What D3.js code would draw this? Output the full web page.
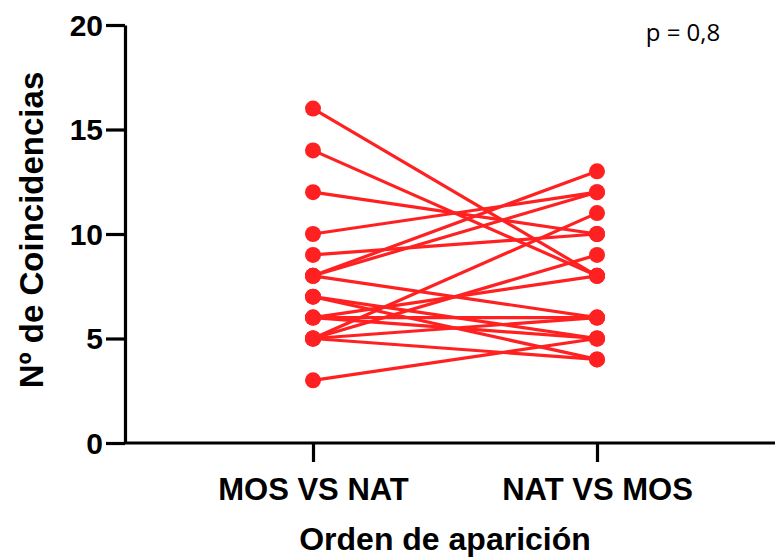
<!DOCTYPE html>
<html>
<head>
<meta charset="utf-8">
<script src="https://cdn.jsdelivr.net/npm/d3@7/dist/d3.min.js"></script>
<style>
  html, body { margin: 0; padding: 0; background: #fff; }
  svg { display: block; }
</style>
</head>
<body>
<svg id="chart" width="775" height="559"></svg>
<script>
// Paired observations: count under each presentation order
const categories = ["MOS VS NAT", "NAT VS MOS"];
const mosVsNat = [16, 14, 12, 10, 9, 8, 8, 8, 7, 7, 6, 6, 6, 5, 5, 5, 5, 3];
const natVsMos = [8, 8, 10, 12, 10, 13, 12, 6, 5, 4, 6, 8, 5, 11, 9, 6, 4, 5];
const yTicks = [0, 5, 10, 15, 20];
const pLabel = "p = 0,8";

const svg = d3.select("#chart");
const margin = { left: 125, right: 0, top: 25, bottom: 116 };
const W = 775, H = 559;
const red = "#ff2121";

const x = d3.scalePoint()
  .domain(categories)
  .range([313, 597]);

const y = d3.scaleLinear()
  .domain([0, 20])
  .range([H - margin.bottom, margin.top]);

// Axes
const yAxis = svg.append("g")
  .attr("transform", `translate(${margin.left},0)`)
  .call(d3.axisLeft(y).tickValues(yTicks).tickSize(19).tickPadding(3).tickSizeOuter(0));

const xAxis = svg.append("g")
  .attr("transform", `translate(0,${y(0)})`)
  .call(d3.axisBottom(x).tickSize(19).tickPadding(16).tickSizeOuter(0));

// Extend the x axis domain line to the right edge
xAxis.select(".domain").attr("d", `M${margin.left},0H${W}`);

[yAxis, xAxis].forEach(g => {
  g.select(".domain").attr("stroke", "#000").attr("stroke-width", 3.2);
  g.selectAll(".tick line").attr("stroke", "#000").attr("stroke-width", 3.2);
  g.selectAll(".tick text")
    .attr("fill", "#000")
    .attr("font-family", "'Liberation Sans', Arial, sans-serif")
    .attr("font-weight", "bold");
});
yAxis.selectAll(".tick text").attr("font-size", 30).attr("dy", "0.34em");
xAxis.selectAll(".tick text").attr("font-size", 31);

// Paired lines
const pairs = mosVsNat.map((v, i) => [v, natVsMos[i]]);

svg.append("g")
  .selectAll("line")
  .data(pairs)
  .join("line")
  .attr("x1", x(categories[0]))
  .attr("x2", x(categories[1]))
  .attr("y1", d => y(d[0]))
  .attr("y2", d => y(d[1]))
  .attr("stroke", red)
  .attr("stroke-width", 3.2);

// Points
const pts = [];
pairs.forEach(d => {
  pts.push({ c: categories[0], v: d[0] });
  pts.push({ c: categories[1], v: d[1] });
});

svg.append("g")
  .selectAll("circle")
  .data(pts)
  .join("circle")
  .attr("cx", d => x(d.c))
  .attr("cy", d => y(d.v))
  .attr("r", 8)
  .attr("fill", red);

// Axis titles
svg.append("text")
  .attr("transform", `translate(43,${(y(0) + y(20)) / 2 - 4}) rotate(-90)`)
  .attr("text-anchor", "middle")
  .attr("font-family", "'Liberation Sans', Arial, sans-serif")
  .attr("font-weight", "bold")
  .attr("font-size", 33)
  .attr("fill", "#000")
  .text("Nº de Coincidencias");

svg.append("text")
  .attr("x", 445)
  .attr("y", 550)
  .attr("text-anchor", "middle")
  .attr("font-family", "'Liberation Sans', Arial, sans-serif")
  .attr("font-weight", "bold")
  .attr("font-size", 32)
  .attr("fill", "#000")
  .text("Orden de aparición");

// Significance annotation
svg.append("text")
  .attr("x", 683)
  .attr("y", 41)
  .attr("text-anchor", "middle")
  .attr("font-family", "'Open Sans', 'Noto Sans', sans-serif")
  .attr("font-size", 24)
  .attr("fill", "#000")
  .text(pLabel);
</script>
</body>
</html>
